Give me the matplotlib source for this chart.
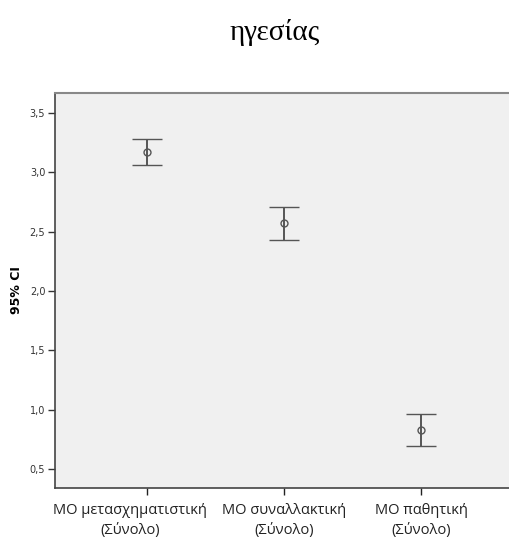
import matplotlib.pyplot as plt
import matplotlib.ticker as mticker
from matplotlib.transforms import ScaledTranslation

# values (mean, lower and upper 95% CI)
categories = ['ΜΟ μετασχηματιστική\n(Σύνολο)',
              'ΜΟ συναλλακτική\n(Σύνολο)',
              'ΜΟ παθητική\n(Σύνολο)']
means = [3.175, 2.574, 0.833]
lower = [3.065, 2.430, 0.698]
upper = [3.285, 2.709, 0.960]

x = list(range(1, len(categories) + 1))
err_low = [m - l for m, l in zip(means, lower)]
err_high = [u - m for m, u in zip(means, upper)]

fig = plt.figure(figsize=(5.1, 5.37), dpi=100)
ax = fig.add_axes([0.1078, 0.0912, 0.898, 0.7356])
ax.set_facecolor('#f0f0f0')

ax.errorbar(x, means, yerr=[err_low, err_high], fmt='o', color='#555555',
            ecolor='#555555', elinewidth=1.4, capsize=11, capthick=1.4,
            markersize=5, markerfacecolor='none', markeredgewidth=1.0)

ax.set_xlim(0.33, 3.67)
ax.set_ylim(0.34, 3.67)
ax.yaxis.set_major_locator(mticker.MultipleLocator(0.5))
ax.yaxis.set_major_formatter(
    mticker.FuncFormatter(lambda v, p: f'{v:.1f}'.replace('.', ',')))

ax.set_xticks(x)
ax.set_xticklabels(categories, fontsize=10.5, family='Open Sans', color='#222222',
                   linespacing=1.45)
ax.tick_params(axis='y', labelsize=7, length=5, width=1, colors='#333333', pad=2)
ax.tick_params(axis='x', length=5, width=1, colors='#222222', pad=6)

# first label sits a bit to the left of its tick in the original
lab0 = ax.get_xticklabels()[0]
lab0.set_transform(lab0.get_transform() + ScaledTranslation(-0.17, 0, fig.dpi_scale_trans))

for side in ['left', 'bottom']:
    ax.spines[side].set_color('#444444')
    ax.spines[side].set_linewidth(1.2)
for side in ['top', 'right']:
    ax.spines[side].set_color('#888888')
    ax.spines[side].set_linewidth(1.5)

ax.set_ylabel('95% CI', fontsize=9, fontweight='bold', labelpad=5)

fig.text(275 / 510, 1 - 32 / 537, 'ηγεσίας', family='Liberation Serif',
         fontsize=21, ha='center', va='center')

fig.savefig('out.png', dpi=100)
